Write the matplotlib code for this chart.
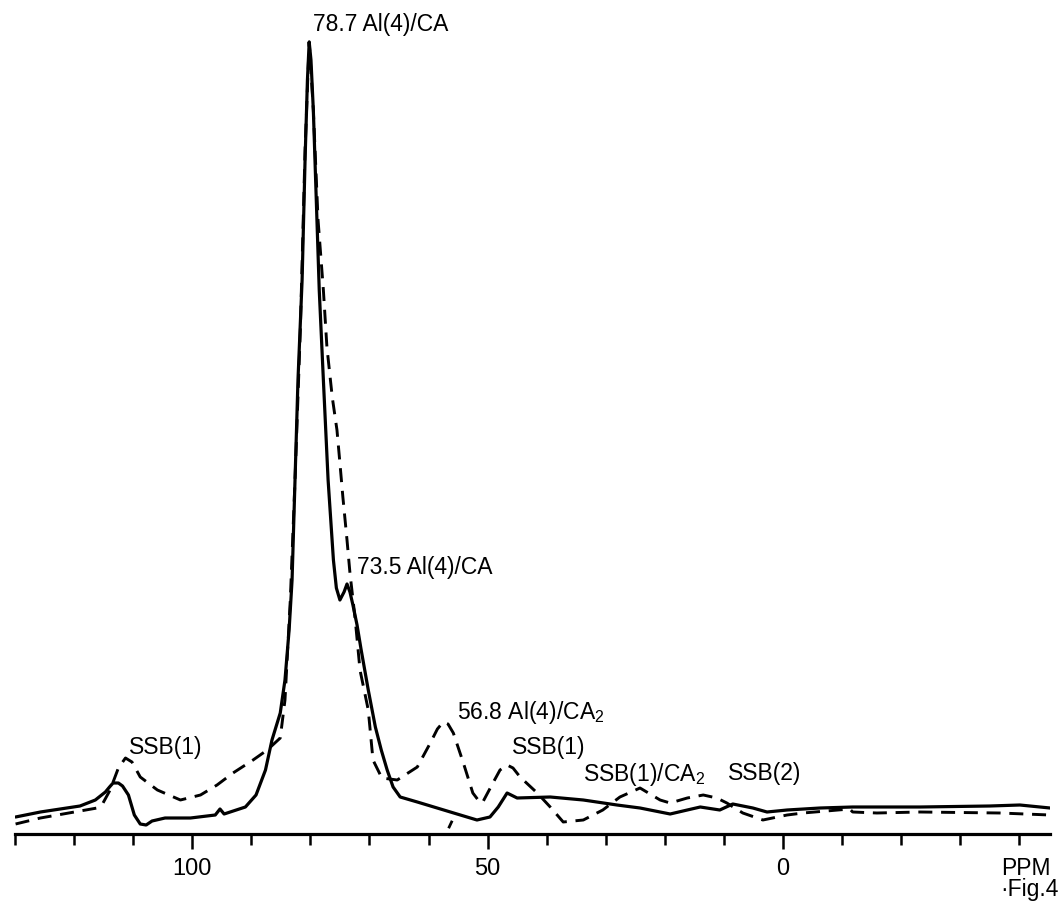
import numpy as np
import matplotlib.pyplot as plt

# solid trace (ppm, intensity a.u.)
solid_ppm = [129.9, 125.7, 119.0, 116.4, 114.7, 114.0, 113.4, 112.5, 111.8, 110.8,
             109.8, 108.8, 107.8, 106.8, 104.6, 100.3, 96.1, 95.3, 94.6, 91.0,
             89.2, 87.6, 86.5, 85.1, 84.3, 83.6, 83.1, 82.6, 82.1, 81.4,
             80.9, 80.5, 80.2, 79.9, 79.5, 79.0, 78.5, 77.8, 77.0, 76.1,
             75.6, 75.0, 74.3, 73.8, 73.3, 72.8, 72.1, 71.4, 71.1, 70.2,
             69.0, 68.0, 67.0, 66.0, 64.8, 61.9, 56.3, 51.8, 49.6, 48.2,
             46.7, 45.0, 39.4, 33.8, 28.1, 24.2, 19.1, 16.2, 14.0, 10.7,
             8.5, 5.1, 2.7, -0.7, -6.3, -11.8, -23.2, -35.0, -40.1, -45.2]
solid_int = [17, 22, 28, 34, 42, 47, 51, 51, 48, 39,
             19, 10, 9, 13, 16, 16, 19, 25, 20, 27,
             39, 64, 94, 121, 154, 204, 254, 354, 454, 554,
             674, 754, 792, 774, 724, 634, 544, 454, 354, 274,
             246, 234, 242, 250, 242, 229, 209, 184, 174, 144,
             107, 84, 64, 47, 37, 32, 22, 14, 17, 27,
             41, 36, 37, 34, 29, 26, 20, 24, 27, 24,
             30, 26, 22, 24, 26, 27, 27, 28, 29, 26]

# dashed trace
dash_ppm = [129.9, 125.7, 116.1, 115.1, 113.9, 112.5, 111.3, 110.2, 108.8, 105.9,
            102.0, 98.6, 95.8, 93.1, 89.7, 87.3, 85.1, 84.3, 83.4, 82.6,
            81.7, 80.9, 80.2, 79.5, 78.7, 77.8, 77.2, 76.3, 75.5, 75.0,
            74.5, 73.8, 73.3, 72.4, 71.6, 70.2, 69.4, 67.9, 65.3, 61.9,
            59.7, 58.5, 57.5, 56.7, 55.8, 54.1, 52.5, 51.6, 50.9, 49.1,
            47.9, 46.7, 45.7, 44.5, 41.6, 39.4, 37.2, 33.8, 30.5, 27.6,
            24.2, 20.8, 19.1, 16.2, 13.5, 11.2, 9.5, 6.8, 3.4, -0.7,
            -3.4, -11.3, -11.8, -15.9, -23.2, -36.7, -45.2]
dash_int = [10, 16, 26, 31, 44, 66, 76, 72, 57, 44,
            34, 39, 49, 61, 74, 84, 96, 134, 234, 354,
            504, 684, 792, 724, 614, 544, 487, 437, 404, 371,
            337, 294, 261, 214, 164, 124, 74, 56, 54, 67,
            91, 105, 112, 110, 101, 71, 41, 34, 31, 51,
            64, 69, 66, 57, 41, 27, 12, 14, 24, 37,
            46, 34, 31, 36, 39, 36, 31, 21, 14, 19,
            21, 25, 22, 21, 22, 21, 19]

# stray pen mark under the 56.8 peak
stray_ppm = [56.1, 56.5]
stray_int = [12, 7]

major_ticks = [100, 50, 0]
minor_ticks = [130, 120, 110, 90, 80, 70, 60, 40, 30, 20, 10, -10, -20, -30, -40]

labels = [
    (79.5, 803, "78.7 Al(4)/CA"),
    (72.1, 260, "73.5 Al(4)/CA"),
    (110.7, 80, "SSB(1)"),
    (55.2, 115, "56.8 Al(4)/CA$_2$"),
    (45.9, 80, "SSB(1)"),
    (33.8, 53, "SSB(1)/CA$_2$"),
    (9.3, 54, "SSB(2)"),
]

plt.rcParams['font.family'] = ['Liberation Sans', 'DejaVu Sans']
plt.rcParams['mathtext.fontset'] = 'custom'
plt.rcParams['mathtext.rm'] = 'Liberation Sans'
plt.rcParams['mathtext.default'] = 'regular'

W, H = 1061, 905
fig = plt.figure(figsize=(W / 100, H / 100), dpi=100)
ax = fig.add_axes([15 / W, 1 - 834 / H, 1035 / W, 834 / H])

ax.plot(solid_ppm, solid_int, color='black', lw=2.3,
        solid_joinstyle='round', solid_capstyle='round')
ax.plot(dash_ppm, dash_int, color='black', lw=2.1, linestyle=(0, (4.8, 3)))
ax.plot(stray_ppm, stray_int, color='black', lw=2.0, clip_on=False)

ax.set_xlim(129.9, -45.2)
ax.set_ylim(0, 834)

for s in ['top', 'left', 'right']:
    ax.spines[s].set_visible(False)
ax.spines['bottom'].set_linewidth(2.3)
ax.set_yticks([])
ax.set_xticks(major_ticks)
ax.set_xticklabels([str(t) for t in major_ticks])
ax.set_xticks(minor_ticks, minor=True)
ax.tick_params(axis='x', which='major', length=11, width=1.8, pad=6, labelsize=17)
ax.tick_params(axis='x', which='minor', length=8, width=1.8)

for x, y, s in labels:
    ax.text(x, y, s, fontsize=16.5, ha='left', va='baseline')

fig.text(1001 / W, 1 - 868 / H, "PPM", fontsize=16.5, ha='left', va='center')
fig.text(1000 / W, 1 - 889 / H, "·Fig.4", fontsize=16.5, ha='left', va='center')

fig.savefig('out.png', dpi=100)
